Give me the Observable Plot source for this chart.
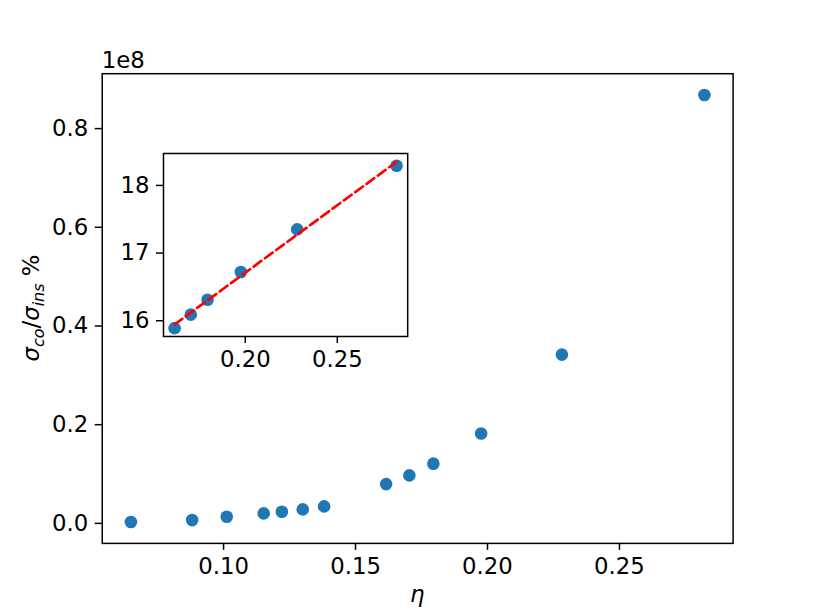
<!DOCTYPE html>
<html><head><meta charset="utf-8">
<script src="https://cdn.jsdelivr.net/npm/d3@7"></script>
<script src="https://cdn.jsdelivr.net/npm/@observablehq/plot@0.6"></script>
<style>
html,body{margin:0;padding:0;background:#fff;overflow:hidden}
#wrap{position:relative;width:814px;height:610px;font-family:"DejaVu Sans",sans-serif}
#wrap svg{position:absolute;overflow:visible}
</style></head><body><div id="wrap"></div>
<script>
// Main scatter: eta vs sigma_co/sigma_ins (in units of 1e8)
const eta = [0.0649, 0.0881, 0.1012, 0.1152, 0.1221, 0.1300, 0.1381, 0.1616, 0.1704, 0.1795, 0.1976, 0.2282, 0.2822];
const ratio = [0.0027, 0.0067, 0.0135, 0.0202, 0.0236, 0.0283, 0.0344, 0.0796, 0.0972, 0.1210, 0.1820, 0.3420, 0.8680];
// Inset: ln of the ratio for the last six points
const insetEta = [0.1616, 0.1704, 0.1795, 0.1976, 0.2282, 0.2822];
const insetLog = [15.89, 16.09, 16.31, 16.72, 17.35, 18.29];

const mainXTicks = [0.10, 0.15, 0.20, 0.25];
const mainYTicks = [0.0, 0.2, 0.4, 0.6, 0.8];
const insetXTicks = [0.20, 0.25];
const insetYTicks = [16, 17, 18];
const exponentLabel = "1e8";

const mainData = eta.map((x, i) => ({x, y: ratio[i]}));
const insetData = insetEta.map((x, i) => ({x, y: insetLog[i]}));

const FS = 22.8, SUB = 16, TICK = 7, PADT = 7, LW = 1.5, BLUE = "#1f77b4", R = 6.3;
function pad(vals) {
  const [a, b] = d3.extent(vals); const m = (b - a) * 0.05; return [a - m, b + m];
}
// least-squares fit only used to include the fit line in the inset's autoscaled y range
function fitExtent(xs, ys) {
  const mx = d3.mean(xs), my = d3.mean(ys);
  let sxy = 0, sxx = 0;
  xs.forEach((x, i) => { sxy += (x - mx) * (ys[i] - my); sxx += (x - mx) ** 2; });
  const k = sxy / sxx;
  const [x0, x1] = d3.extent(xs);
  return [my + k * (x0 - mx), my + k * (x1 - mx)];
}
const style = {fontFamily: "DejaVu Sans", fontSize: FS + "px", color: "black", background: "transparent", overflow: "visible"};
const ax = {tickSize: TICK, tickPadding: PADT, strokeWidth: LW, fontSize: FS, label: null};

const main = Plot.plot({
  width: 814, height: 610,
  marginLeft: 101.75, marginRight: 81.4, marginTop: 73.2, marginBottom: 67.1,
  style,
  x: {domain: pad(eta)},
  y: {domain: pad(ratio)},
  marks: [
    Plot.frame({stroke: "black", strokeWidth: LW}),
    Plot.axisX({...ax, ticks: mainXTicks, tickFormat: d3.format(".2f")}),
    Plot.axisY({...ax, ticks: mainYTicks, tickFormat: d3.format(".1f")}),
    Plot.dot(mainData, {x: "x", y: "y", r: R, fill: BLUE, stroke: null})
  ]
});
main.style.left = "0px"; main.style.top = "0px";
document.getElementById("wrap").appendChild(main);

const fe = fitExtent(insetEta, insetLog);
const insetY = pad(insetLog.concat(fe));
const iw = 244.2, ih = 183, iml = 70, imr = 10, imt = 10, imb = 45;
const inset = Plot.plot({
  width: iw + iml + imr, height: ih + imt + imb,
  marginLeft: iml, marginRight: imr, marginTop: imt, marginBottom: imb,
  style,
  x: {domain: pad(insetEta)},
  y: {domain: insetY},
  marks: [
    Plot.frame({fill: "white", stroke: "black", strokeWidth: LW}),
    Plot.axisX({...ax, ticks: insetXTicks, tickFormat: d3.format(".2f")}),
    Plot.axisY({...ax, ticks: insetYTicks, tickFormat: d3.format("d")}),
    Plot.dot(insetData, {x: "x", y: "y", r: R, fill: BLUE, stroke: null}),
    Plot.linearRegressionY(insetData, {x: "x", y: "y", ci: 0, stroke: "red", strokeWidth: 2.7, strokeDasharray: "9.5,4.5"})
  ]
});
inset.style.left = (162.8 - iml) + "px"; inset.style.top = (152.5 - imt) + "px";
document.getElementById("wrap").appendChild(inset);

// Labels
const svg = d3.select(main);
svg.append("text").attr("x", 101.75).attr("y", 68).attr("text-anchor", "start")
  .style("font-size", FS + "px").attr("fill", "black").text(exponentLabel);
svg.append("text").attr("x", 417.2).attr("y", 602).attr("text-anchor", "middle").style("font-size", FS + "px")
  .attr("font-style", "italic").attr("fill", "black").text("η");
const yl = svg.append("text").attr("transform", "translate(39,308) rotate(-90)").attr("text-anchor", "middle")
  .style("font-size", FS + "px").attr("fill", "black");
yl.append("tspan").attr("font-style", "italic").text("σ");
yl.append("tspan").attr("font-style", "italic").style("font-size", SUB + "px").attr("dy", 4.5).text("co");
yl.append("tspan").attr("dy", -4.5).text("/");
yl.append("tspan").attr("font-style", "italic").text("σ");
yl.append("tspan").attr("font-style", "italic").style("font-size", SUB + "px").attr("dy", 4.5).text("ins");
yl.append("tspan").attr("dy", -4.5).text(" %");
</script></body></html>
